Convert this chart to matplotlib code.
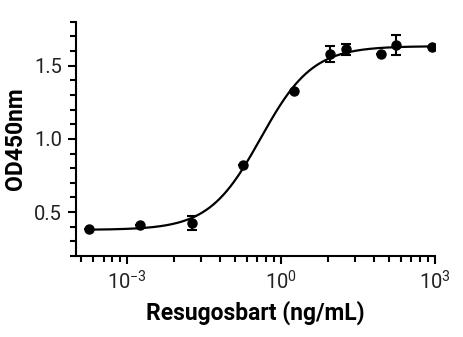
import numpy as np
import matplotlib
matplotlib.use("Agg")
import matplotlib.pyplot as plt
from matplotlib.ticker import FixedLocator, MultipleLocator, FuncFormatter, NullFormatter

plt.rcParams['font.family'] = ['Roboto', 'DejaVu Sans']
plt.rcParams['mathtext.fontset'] = 'custom'
plt.rcParams['mathtext.rm'] = 'Roboto'

# concentrations (ng/mL) and OD450 readings
conc = [1.8e-4, 1.8e-3, 1.8e-2, 0.18, 1.8, 8.7, 18, 87, 175, 875]
od450 = [0.382, 0.411, 0.427, 0.822, 1.329, 1.580, 1.610, 1.582, 1.637, 1.628]
od_err = [0.0, 0.0, 0.048, 0.0, 0.0, 0.053, 0.040, 0.0, 0.068, 0.0]

x_major = [1e-3, 1e0, 1e3]


def four_pl(x, bottom, top, ec50, hill):
    return bottom + (top - bottom) / (1 + (ec50 / x) ** hill)


# crude 4PL fit: grid over ec50/hill, linear least squares for bottom/top
xd = np.array(conc)
yd = np.array(od450)
best = None
for lec in np.linspace(-2, 1, 301):
    for h in np.linspace(0.5, 2.0, 151):
        s = 1 / (1 + (10 ** lec / xd) ** h)
        A = np.column_stack([1 - s, s])
        coef, *_ = np.linalg.lstsq(A, yd, rcond=None)
        r = np.sum((A @ coef - yd) ** 2)
        if best is None or r < best[0]:
            best = (r, coef[0], coef[1], 10 ** lec, h)
_, bot, top, ec50, hill = best

fig = plt.figure(figsize=(4.64, 3.37), dpi=100)
ax = fig.add_axes([0.164, 0.240, 0.774, 0.696])

xs = np.logspace(np.log10(conc[0]), np.log10(conc[-1]), 400)
ax.plot(xs, four_pl(xs, bot, top, ec50, hill), color='black', lw=1.6, zorder=2)
ax.errorbar(conc, od450, yerr=od_err, fmt='o', color='black', ms=6.5,
            elinewidth=1.5, capsize=3.5, capthick=1.5, zorder=3)

ax.set_xscale('log')
ax.set_xlim(1e-4, 1e3)
ax.set_ylim(0.2, 1.8)

# minor ticks spaced like a log axis whose decade spans three powers of ten
minor_x = [10.0 ** (3 * n) * k ** 3 for n in range(-2, 1) for k in range(2, 10)]
minor_x = [v for v in minor_x if 1e-4 <= v <= 1e3]

ax.xaxis.set_major_locator(FixedLocator(x_major))
ax.xaxis.set_minor_locator(FixedLocator(minor_x))
ax.xaxis.set_minor_formatter(NullFormatter())
ax.xaxis.set_major_formatter(FuncFormatter(
    lambda v, p: r'$\mathregular{10^{%d}}$' % round(np.log10(v))))
ax.yaxis.set_major_locator(FixedLocator([0.5, 1.0, 1.5]))
ax.yaxis.set_minor_locator(MultipleLocator(0.1))
ax.yaxis.set_major_formatter(FuncFormatter(lambda v, p: '%.1f' % v))

for s in ['top', 'right']:
    ax.spines[s].set_visible(False)
for s in ['left', 'bottom']:
    ax.spines[s].set_linewidth(1.5)

ax.tick_params(which='major', length=6, width=1.5, labelsize=14.5, color='black',
               labelcolor='#222222', pad=4)
ax.tick_params(which='minor', length=4, width=1.5)

ax.set_xlabel('Resugosbart (ng/mL)', fontsize=16.5, fontweight='bold', labelpad=5)
ax.set_ylabel('OD450nm', fontsize=16.5, fontweight='bold', labelpad=5)

fig.savefig('out.png', dpi=100)
